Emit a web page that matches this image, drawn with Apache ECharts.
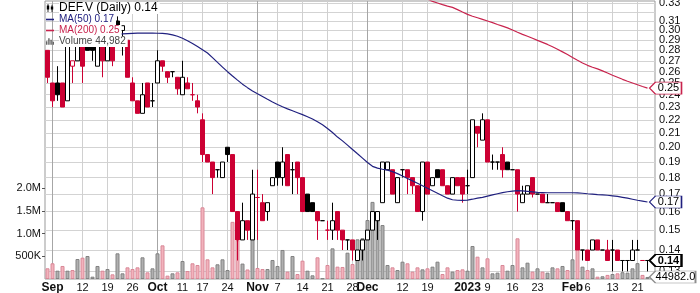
<!DOCTYPE html>
<html><head><meta charset="utf-8">
<script src="https://cdn.jsdelivr.net/npm/echarts@6/dist/echarts.min.js"></script>
<style>html,body{margin:0;padding:0;background:#fff}#c{width:700px;height:293px}</style>
</head><body><div id="c"></div>
<script>
// ---- data ----
const dates = ['2022-08-31','2022-09-01','2022-09-02','2022-09-06','2022-09-07','2022-09-08','2022-09-09','2022-09-12','2022-09-13','2022-09-14',
'2022-09-15','2022-09-16','2022-09-19','2022-09-20','2022-09-21','2022-09-22','2022-09-23','2022-09-26','2022-09-27','2022-09-28',
'2022-09-29','2022-09-30','2022-10-03','2022-10-04','2022-10-05','2022-10-06','2022-10-07','2022-10-11','2022-10-12','2022-10-13',
'2022-10-14','2022-10-17','2022-10-18','2022-10-19','2022-10-20','2022-10-21','2022-10-24','2022-10-25','2022-10-26','2022-10-27',
'2022-10-28','2022-10-31','2022-11-01','2022-11-02','2022-11-03','2022-11-04','2022-11-07','2022-11-08','2022-11-09','2022-11-10',
'2022-11-11','2022-11-14','2022-11-15','2022-11-16','2022-11-17','2022-11-18','2022-11-21','2022-11-22','2022-11-23','2022-11-24',
'2022-11-25','2022-11-28','2022-11-29','2022-11-30','2022-12-01','2022-12-02','2022-12-05','2022-12-06','2022-12-07','2022-12-08',
'2022-12-09','2022-12-12','2022-12-13','2022-12-14','2022-12-15','2022-12-16','2022-12-19','2022-12-20','2022-12-21','2022-12-22',
'2022-12-23','2022-12-28','2022-12-29','2022-12-30','2023-01-03','2023-01-04','2023-01-05','2023-01-06','2023-01-09','2023-01-10',
'2023-01-11','2023-01-12','2023-01-13','2023-01-16','2023-01-17','2023-01-18','2023-01-19','2023-01-20','2023-01-23','2023-01-24',
'2023-01-25','2023-01-26','2023-01-27','2023-01-30','2023-01-31','2023-02-01','2023-02-02','2023-02-03','2023-02-06','2023-02-07',
'2023-02-08','2023-02-09','2023-02-10','2023-02-13','2023-02-14','2023-02-15','2023-02-16','2023-02-17','2023-02-21','2023-02-22',
'2023-02-23','2023-02-24'];

const open = [0.28,0.25,0.25,0.25,0.235,0.265,0.27,0.285,0.285,0.285,
0.265,0.285,0.27,0.285,0.31,0.30,0.29,0.25,0.235,0.225,
0.25,0.235,0.25,0.27,0.26,0.26,0.255,0.24,0.25,0.24,
0.235,0.22,0.195,0.19,0.185,0.18,0.20,0.195,0.16,0.145,
0.155,0.145,0.168,0.165,0.16,0.175,0.19,0.18,0.195,0.185,
0.19,0.18,0.17,0.165,0.16,0.155,0.15,0.15,0.16,0.15,
0.145,0.145,0.135,0.14,0.145,0.15,0.155,0.165,0.185,0.185,
0.165,0.185,0.185,0.18,0.175,0.16,0.19,0.175,0.185,0.185,
0.175,0.17,0.18,0.18,0.175,0.18,0.215,0.205,0.22,0.19,
0.19,0.195,0.19,0.185,0.185,0.165,0.17,0.18,0.17,0.17,
0.165,0.165,0.165,0.165,0.16,0.155,0.155,0.14,0.14,0.14,
0.145,0.14,0.14,0.14,0.14,0.135,0.135,0.135,0.14,0.135,
0.135];
const high = [0.28,0.25,0.265,0.25,0.285,0.27,0.285,0.285,0.285,0.285,
0.285,0.285,0.285,0.285,0.315,0.305,0.29,0.255,0.235,0.25,
0.25,0.25,0.28,0.27,0.26,0.26,0.255,0.27,0.255,0.25,
0.24,0.225,0.195,0.19,0.185,0.19,0.20,0.195,0.16,0.165,
0.155,0.185,0.185,0.17,0.165,0.18,0.19,0.20,0.195,0.19,
0.19,0.18,0.17,0.165,0.16,0.155,0.155,0.165,0.16,0.15,
0.145,0.145,0.14,0.145,0.15,0.16,0.16,0.19,0.19,0.185,
0.18,0.185,0.185,0.18,0.175,0.19,0.19,0.18,0.185,0.185,
0.175,0.18,0.18,0.18,0.185,0.22,0.215,0.225,0.22,0.195,
0.19,0.20,0.19,0.185,0.185,0.175,0.175,0.18,0.17,0.17,
0.17,0.165,0.165,0.165,0.16,0.155,0.155,0.14,0.14,0.145,
0.145,0.14,0.145,0.145,0.14,0.135,0.135,0.145,0.145,0.135,
0.135];
const low = [0.25,0.23,0.235,0.23,0.235,0.25,0.27,0.25,0.28,0.27,
0.265,0.255,0.27,0.265,0.295,0.275,0.255,0.235,0.225,0.225,
0.23,0.23,0.25,0.26,0.25,0.255,0.24,0.24,0.245,0.235,
0.225,0.19,0.19,0.17,0.18,0.18,0.19,0.16,0.135,0.145,
0.145,0.145,0.145,0.155,0.155,0.175,0.175,0.175,0.175,0.17,
0.17,0.16,0.16,0.16,0.145,0.155,0.145,0.145,0.145,0.14,
0.14,0.135,0.135,0.135,0.145,0.15,0.145,0.165,0.185,0.17,
0.165,0.18,0.17,0.17,0.16,0.155,0.17,0.175,0.18,0.175,
0.17,0.17,0.175,0.165,0.17,0.18,0.20,0.205,0.19,0.185,
0.185,0.18,0.185,0.185,0.16,0.165,0.17,0.168,0.17,0.165,
0.165,0.165,0.16,0.16,0.155,0.15,0.14,0.135,0.135,0.14,
0.14,0.14,0.135,0.13,0.135,0.13,0.13,0.135,0.14,0.135,
0.13];
const close = [0.255,0.235,0.24,0.23,0.285,0.27,0.285,0.265,0.28,0.28,
0.285,0.27,0.285,0.27,0.295,0.305,0.255,0.235,0.225,0.24,
0.23,0.235,0.27,0.265,0.255,0.26,0.245,0.255,0.245,0.24,
0.23,0.195,0.19,0.18,0.185,0.19,0.195,0.16,0.145,0.155,
0.15,0.17,0.168,0.155,0.165,0.18,0.18,0.19,0.175,0.185,
0.18,0.16,0.16,0.16,0.155,0.155,0.15,0.155,0.15,0.145,
0.145,0.14,0.14,0.145,0.15,0.16,0.16,0.19,0.19,0.17,
0.18,0.185,0.18,0.175,0.16,0.19,0.17,0.18,0.18,0.175,
0.17,0.18,0.175,0.17,0.175,0.22,0.21,0.22,0.19,0.19,
0.19,0.185,0.185,0.185,0.17,0.17,0.175,0.17,0.17,0.165,
0.165,0.165,0.16,0.16,0.155,0.155,0.14,0.14,0.135,0.145,
0.14,0.14,0.135,0.14,0.135,0.135,0.135,0.14,0.14,0.135,
0.135];
const volume = [236000,346000,183000,287000,183000,198000,441000,470000,507000,51000,
287000,183000,220000,103000,566000,125000,257000,220000,257000,478000,
147000,235000,566000,742000,74000,125000,147000,397000,176000,346000,
309000,1580000,434000,257000,324000,434000,198000,1260000,850000,340000,
210000,950000,243000,220000,220000,419000,287000,640000,162000,507000,
110000,404000,183000,81000,478000,15000,309000,676000,272000,265000,
580000,330000,875000,900000,1300000,1700000,1450000,1190000,309000,257000,
198000,382000,346000,162000,257000,213000,235000,272000,382000,110000,
257000,162000,198000,213000,183000,728000,492000,257000,456000,125000,
140000,309000,183000,309000,897000,257000,360000,162000,235000,162000,
140000,257000,235000,287000,198000,434000,728000,272000,198000,235000,
51000,60000,90000,110000,125000,150000,140000,235000,350000,90000,
44982];
const ma50 = Array(14).fill(null).concat([
0.2960,0.2965,0.2968,0.2970,0.2972,0.2972,0.2972,0.2972,0.2971,0.2970,
0.2965,0.2955,0.2940,0.2920,0.2895,0.2868,0.2838,0.2806,0.2774,0.2730,
0.2685,0.2642,0.2600,0.2562,0.2525,0.2490,0.2460,0.2432,0.2408,0.2385,
0.2362,0.2340,0.2320,0.2302,0.2285,0.2270,0.2255,0.2240,0.2224,0.2206,
0.2185,0.2163,0.2135,0.2105,0.2072,0.2045,0.2015,0.1985,0.1955,0.1926,
0.1897,0.1872,0.1860,0.1853,0.1847,0.1838,0.1825,0.1810,0.1795,0.1780,
0.1765,0.1750,0.1735,0.1720,0.1705,0.1690,0.1676,0.1667,0.1664,0.1663,
0.1665,0.1670,0.1676,0.1681,0.1688,0.1695,0.1702,0.1709,0.1714,0.1718,
0.1720,0.1719,0.1716,0.1713,0.1710,0.1709,0.1708,0.1708,0.1708,0.1708,
0.1708,0.1708,0.1707,0.1705,0.1702,0.1700,0.1697,0.1695,0.1693,0.1690,
0.1686,0.1681,0.1676,0.1670,0.1664,0.1659,0.1654]);
const ma200 = Array(76).fill(null).concat([
0.3345,0.3318,0.3300,0.3282,0.3265,0.3250,0.3225,0.3198,0.3172,0.3152,
0.3135,0.3118,0.3100,0.3082,0.3063,0.3045,0.3027,0.3005,0.2982,0.2960,
0.2940,0.2920,0.2898,0.2878,0.2858,0.2835,0.2810,0.2785,0.2760,0.2732,
0.2705,0.2680,0.2658,0.2640,0.2625,0.2607,0.2588,0.2568,0.2550,0.2532,
0.2515,0.2500,0.2485,0.2470,0.2456]);

const xTickDates = ['2022-09-01','2022-09-12','2022-09-19','2022-09-26','2022-10-03','2022-10-11','2022-10-17','2022-10-24',
'2022-11-01','2022-11-07','2022-11-14','2022-11-21','2022-11-28','2022-12-01','2022-12-12','2022-12-19',
'2023-01-03','2023-01-09','2023-01-16','2023-01-23','2023-02-01','2023-02-06','2023-02-13','2023-02-21'];
const xTickText = ['Sep','12','19','26','Oct','11','17','24','Nov','7','14','21','28','Dec','12','19','2023','9','16','23','Feb','6','13','21'];
const priceTicks = [0.13,0.14,0.15,0.16,0.17,0.18,0.19,0.20,0.21,0.22,0.23,0.24,0.25,0.26,0.27,0.28,0.29,0.30,0.31,0.32,0.33];
const volumeTicks = [500000,1000000,1500000,2000000];
const volumeTickText = ['500K','1.0M','1.5M','2.0M'];

// ---- build ----
const FONT = '"Liberation Sans", Arial, sans-serif';
const RED = '#cc0033', BLACK = '#000000';
const PINK = '#f2b3bc', PINK_B = '#d98898', GRAY = '#b0b0b0', GRAY_B = '#828282';
const NAVY = '#20207f', CRIMSON = '#c8234d';
const n = close.length;
const last = n - 1;

const tickMap = {}; xTickDates.forEach((d, i) => tickMap[d] = xTickText[i]);
const isMonth = t => !/^\d{1,2}$/.test(t);

const candleData = [], volData = [];
for (let i = 0; i < n; i++) {
  const prev = i ? close[i - 1] : open[i];
  const down = close[i] < prev;
  const col = down ? RED : BLACK;
  const fill = close[i] < open[i] ? col : '#ffffff';
  candleData.push({ value: [open[i], close[i], low[i], high[i]],
    itemStyle: { color: fill, color0: fill, borderColor: col, borderColor0: col, borderColorDoji: col, borderWidth: 1 } });
  volData.push({ value: volume[i],
    itemStyle: { color: down ? PINK : GRAY, borderColor: down ? PINK_B : GRAY_B, borderWidth: 1 } });
}

const nameCandle = 'DEF.V (Daily) ' + close[last].toFixed(2);
const nameMa50 = 'MA(50) ' + ma50[last].toFixed(2);
const nameMa200 = 'MA(200) ' + ma200[last].toFixed(2);
const nameVol = 'Volume ' + volume[last].toLocaleString('en-US');

function tag(value, text, border, w, bold, bw) {
  return {
    silent: true,
    symbol: 'path://M0,6L6,0H' + w + 'V12H6Z',
    symbolSize: [w, 12], symbolKeepAspect: false,
    symbolOffset: [w / 2 + 2, 0],
    itemStyle: { color: '#ffffff', borderColor: border, borderWidth: bw || 1 },
    label: { show: true, position: 'inside', offset: [3, 0], color: '#000', fontFamily: FONT, fontSize: 11,
      fontWeight: bold ? 'bold' : 'normal', formatter: text },
    data: [{ coord: [dates[last], value], value: value }]
  };
}

const candleIcon = 'path://M1,0h1v2h1v5h-1v3h-1v-3h-1v-5h1zM6,1h1v2h1v4h-1v3h-1v-3h-1v-4h1z';
const lineIcon = 'path://M0,4H10V6H0Z';
const volIcon = 'path://M0,5h2v5h-2zM3,1h2v9h-2zM6,3h2v7h-2zM9,6h2v4h-2z';

const chart = echarts.init(document.getElementById('c'), null, { renderer: 'canvas' });
chart.setOption({
  animation: false,
  backgroundColor: '#ffffff',
  textStyle: { fontFamily: FONT },
  grid: { left: 45, right: 45, top: 1, bottom: 14, show: true, borderColor: '#999', borderWidth: 1,
    backgroundColor: 'transparent', outerBoundsMode: 'none', containLabel: false },
  legend: {
    left: 46, top: 2, orient: 'vertical', padding: 0, itemGap: 0, itemWidth: 8, itemHeight: 8,
    selectedMode: false,
    textStyle: { fontFamily: FONT, fontSize: 10, lineHeight: 11, backgroundColor: '#ffffff', padding: [0, 2, 0, 0] },
    data: [
      { name: nameCandle, icon: candleIcon, itemStyle: { color: '#000', borderColor: '#000', borderWidth: 0 },
        textStyle: { fontSize: 12, lineHeight: 12, color: '#000' } },
      { name: nameMa50, icon: lineIcon, itemStyle: { color: NAVY, borderWidth: 0 }, textStyle: { color: NAVY } },
      { name: nameMa200, icon: lineIcon, itemStyle: { color: CRIMSON, borderWidth: 0 }, textStyle: { color: CRIMSON } },
      { name: nameVol, icon: volIcon, itemStyle: { color: '#666', borderWidth: 0 }, textStyle: { color: '#444' } }
    ]
  },
  xAxis: [{
    type: 'category', data: dates, boundaryGap: true,
    axisLine: { show: false }, axisTick: { show: false },
    axisLabel: {
      interval: (i, v) => tickMap[v] !== undefined,
      formatter: v => { const t = tickMap[v]; return isMonth(t) ? '{b|' + t + '}' : t; },
      margin: 3, color: '#111', fontFamily: FONT, fontSize: 11,
      rich: { b: { fontWeight: 'bold', fontSize: 12, fontFamily: FONT, color: '#111' } }
    },
    splitLine: { show: true, alignWithLabel: true,
      interval: (i, v) => tickMap[v] !== undefined && !isMonth(tickMap[v]),
      lineStyle: { color: '#d0d0d0', width: 1 } }
  }, {
    type: 'category', data: dates, boundaryGap: true, position: 'top',
    axisLine: { show: false }, axisTick: { show: false }, axisLabel: { show: false },
    splitLine: { show: true, alignWithLabel: true,
      interval: (i, v) => tickMap[v] !== undefined && isMonth(tickMap[v]),
      lineStyle: { color: '#a6a6a6', width: 1 } }
  }],
  yAxis: [{
    type: 'log', logBase: 10, position: 'right', min: 0.1266, max: 0.3323,
    axisLine: { show: false },
    axisTick: { show: false, customValues: priceTicks },
    axisLabel: { customValues: priceTicks, formatter: v => Number(v).toFixed(2), margin: 4,
      showMinLabel: true, showMaxLabel: true, hideOverlap: false,
      color: '#111', fontFamily: FONT, fontSize: 11 },
    splitLine: { show: true, lineStyle: { color: '#d3d3d3', width: 1 } }
  }, {
    type: 'value', position: 'left', min: 0, max: 6130000,
    axisLine: { show: false },
    axisTick: { show: true, length: 3, customValues: volumeTicks, lineStyle: { color: '#555' } },
    axisLabel: { customValues: volumeTicks, formatter: v => volumeTickText[volumeTicks.indexOf(Number(v))] || '',
      margin: 4, color: '#111', fontFamily: FONT, fontSize: 11 },
    splitLine: { show: false }
  }],
  series: [
    { name: nameVol, type: 'bar', xAxisIndex: 0, yAxisIndex: 1, data: volData, barWidth: 4, z: 1,
      itemStyle: { color: '#666' },
      emphasis: { disabled: true }, silent: true,
      markPoint: tag(volume[last], volume[last].toFixed(1), '#8e8e8e', 46, false, 1) },
    { name: nameCandle, type: 'candlestick', xAxisIndex: 0, yAxisIndex: 0, data: candleData, barWidth: 4, z: 2,
      itemStyle: { color: '#000', color0: '#000', borderColor: '#000', borderColor0: '#000' },
      emphasis: { disabled: true }, silent: true,
      markPoint: tag(close[last], close[last].toFixed(2), '#000', 32, true, 1.5) },
    { name: nameMa50, type: 'line', xAxisIndex: 0, yAxisIndex: 0, data: ma50, symbol: 'none', z: 3,
      itemStyle: { color: NAVY }, lineStyle: { color: NAVY, width: 1.2 }, emphasis: { disabled: true }, silent: true,
      markPoint: tag(ma50[last], ma50[last].toFixed(2), NAVY, 32, false, 1) },
    { name: nameMa200, type: 'line', xAxisIndex: 0, yAxisIndex: 0, data: ma200, symbol: 'none', z: 3,
      itemStyle: { color: CRIMSON }, lineStyle: { color: CRIMSON, width: 1.2 }, emphasis: { disabled: true }, silent: true,
      markPoint: tag(ma200[last], ma200[last].toFixed(2), CRIMSON, 32, false, 1) }
  ]
});
</script>
</body></html>
